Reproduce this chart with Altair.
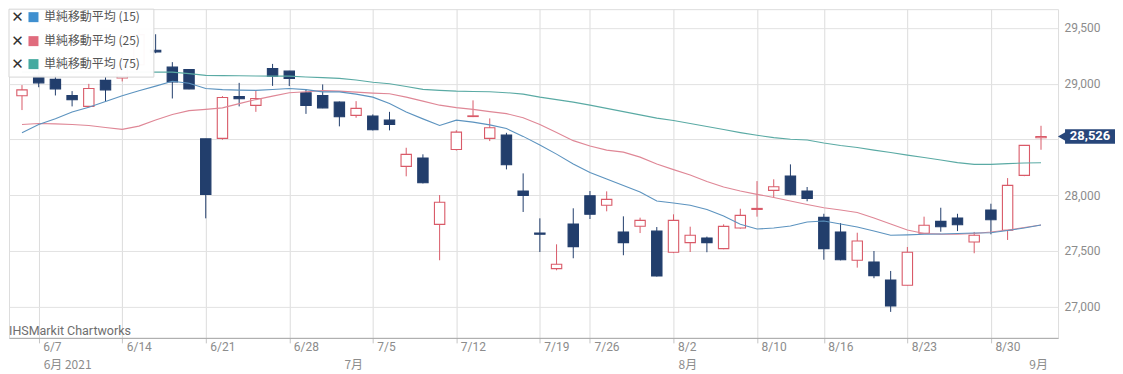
import altair as alt
import pandas as pd
import datetime as dt

# ---------------- data ----------------
dates = [
    "2021-06-04", "2021-06-07", "2021-06-08", "2021-06-09", "2021-06-10", "2021-06-11",
    "2021-06-14", "2021-06-15", "2021-06-16", "2021-06-17", "2021-06-18",
    "2021-06-21", "2021-06-22", "2021-06-23", "2021-06-24", "2021-06-25",
    "2021-06-28", "2021-06-29", "2021-06-30", "2021-07-01", "2021-07-02",
    "2021-07-05", "2021-07-06", "2021-07-07", "2021-07-08", "2021-07-09",
    "2021-07-12", "2021-07-13", "2021-07-14", "2021-07-15", "2021-07-16",
    "2021-07-19", "2021-07-20", "2021-07-21",
    "2021-07-26", "2021-07-27", "2021-07-28", "2021-07-29", "2021-07-30",
    "2021-08-02", "2021-08-03", "2021-08-04", "2021-08-05", "2021-08-06",
    "2021-08-10", "2021-08-11", "2021-08-12", "2021-08-13",
    "2021-08-16", "2021-08-17", "2021-08-18", "2021-08-19", "2021-08-20",
    "2021-08-23", "2021-08-24", "2021-08-25", "2021-08-26", "2021-08-27",
    "2021-08-30", "2021-08-31", "2021-09-01", "2021-09-02",
]
opens = [28891, 29070, 29038, 28894, 28796, 29029, 29050, 29170, 29300, 29148, 29127,
         28505, 28509, 28885, 28805, 29136, 29112, 28918, 28894, 28834, 28715,
         28709, 28673, 28258, 28333, 27738, 28410, 28705, 28509, 28539, 28037,
         27660, 27341, 27741, 27995, 27909, 27670, 27721, 27678,
         27488, 27574, 27616, 27520, 27705, 27872, 28043, 28171, 28037,
         27801, 27670, 27416, 27401, 27239, 27192, 27658, 27765, 27795, 27580,
         27867, 27685, 28177, 28515]
highs = [28987, 29140, 29080, 28933, 28998, 29060, 29180, 29480, 29443, 29193, 29130,
         28505, 28888, 29007, 28939, 29177, 29115, 28948, 28993, 28840, 28843,
         28724, 28747, 28425, 28366, 28001, 28582, 28850, 28688, 28559, 28195,
         27792, 27559, 27882, 28037, 28034, 27810, 27798, 27714,
         27828, 27717, 27628, 27738, 27878, 28126, 28142, 28276, 28073,
         27833, 27750, 27663, 27499, 27320, 27535, 27807, 27887, 27833, 27670,
         27923, 28153, 28450, 28622]
lows = [28763, 28968, 28894, 28796, 28790, 28837, 29020, 29150, 29273, 28867, 28950,
        27792, 28497, 28796, 28747, 28980, 28978, 28729, 28780, 28617, 28694,
        28580, 28581, 28169, 28105, 27416, 28400, 28700, 28485, 28231, 27849,
        27490, 27326, 27434, 27786, 27855, 27461, 27660, 27270,
        27480, 27490, 27488, 27515, 27700, 27807, 27977, 28000, 27945,
        27421, 27415, 27350, 27255, 26953, 27190, 27655, 27672, 27678, 27479,
        27649, 27598, 28170, 28407]
closes = [28944, 29007, 28953, 28855, 28957, 28944, 29160, 29440, 29285, 29016, 28953,
          28007, 28876, 28864, 28867, 29067, 29047, 28805, 28783, 28703, 28778,
          28586, 28634, 28366, 28111, 27936, 28565, 28711, 28604, 28272, 27998,
          27649, 27380, 27538, 27828, 27962, 27574, 27774, 27275,
          27774, 27640, 27574, 27720, 27819, 27881, 28075, 28004, 27971,
          27520, 27421, 27589, 27278, 27006, 27488, 27730, 27717, 27735, 27640,
          27780, 28088, 28446, 28526]

ma15 = [28559, 28634, 28686, 28745, 28789, 28839, 28892, 28937, 28978, 29022, 29004,
        28957, 28946, 28942, 28940, 28948, 28957, 28946, 28926, 28926, 28906,
        28879, 28821, 28745, 28684, 28625, 28673, 28655, 28630, 28597, 28527,
        28449, 28368, 28279, 28203, 28144, 28086, 28028, 27947,
        27929, 27909, 27871, 27813, 27738, 27696, 27705, 27723, 27759,
        27768, 27741, 27714, 27678, 27640, 27644, 27649, 27652, 27656, 27661,
        27663, 27683, 27705, 27732]
ma25 = [28634, 28642, 28639, 28634, 28624, 28606, 28590, 28619, 28673, 28724, 28758,
        28769, 28783, 28821, 28857, 28888, 28918, 28928, 28937, 28933, 28924,
        28915, 28909, 28879, 28843, 28807, 28785, 28769, 28749, 28731, 28695,
        28633, 28561, 28489, 28440, 28404, 28386, 28341, 28279,
        28229, 28180, 28122, 28073, 28037, 28007, 27979, 27947, 27916,
        27887, 27867, 27844, 27795, 27741, 27687, 27656, 27650, 27649, 27656,
        27669, 27687, 27710, 27732]
ma75 = [29103, 29103, 29103, 29103, 29103, 29103, 29103, 29103, 29103, 29103, 29090,
        29074, 29072, 29071, 29069, 29067, 29067, 29060, 29054, 29047, 29033,
        29013, 28999, 28975, 28949, 28940, 28933, 28930, 28927, 28919, 28906,
        28879, 28857, 28834, 28807, 28778, 28749, 28720, 28691,
        28669, 28642, 28615, 28588, 28561, 28537, 28516, 28501, 28494,
        28467, 28445, 28427, 28404, 28382, 28359, 28337, 28315, 28292, 28276,
        28276, 28283, 28288, 28290]

series_names = ["単純移動平均 (15)", "単純移動平均 (25)", "単純移動平均 (75)"]
line_colors = ["#5c93bf", "#df8796", "#5aaaa4"]
legend_colors = ["#3f8fcf", "#e06b7d", "#45aaa0"]

month_labels = ["6月 2021", "7月", "8月", "9月"]
month_idx = [1, 19, 39, 60]

last_price = 28526
last_label = "28,526"

y_ticks = [27000, 27500, 28000, 28500, 29000, 29500]

# ---------------- tables ----------------
d_objs = [dt.date.fromisoformat(s) for s in dates]
day_labels = [f"{d.month}/{d.day}" for d in d_objs]
week_ticks = [i for i in range(1, len(d_objs))
              if d_objs[i].isocalendar()[1] != d_objs[i - 1].isocalendar()[1]]
idx_list = list(range(len(dates)))

candles = pd.DataFrame({
    "idx": idx_list,
    "open": opens, "high": highs, "low": lows, "close": closes,
})
candles["dir"] = ["up" if c >= o else "down" for o, c in zip(opens, closes)]

months_df = pd.DataFrame({"idx": month_idx, "label": month_labels})

# ---------------- styles ----------------
RED = "#d95a68"
NAVY = "#223e6c"
TAG = "#27467a"
W = 1050
H = 329
FONT = "Roboto"

xscale = alt.Scale(domain=[-0.7775, 62.02], nice=False, zero=False)
yscale = alt.Scale(domain=[26720, 29668], nice=False, zero=False)

label_arr = "[" + ",".join(f"'{s}'" for s in day_labels) + "]"
xaxis = alt.Axis(values=week_ticks, labelExpr=f"{label_arr}[datum.value]", grid=True,
                 gridColor="#dcdcdc", tickColor="#c4c4c4", tickSize=5, domainColor="#a8a8a8",
                 labelAlign="left", labelOffset=4, labelColor="#8c8c8c", labelFontSize=12,
                 labelFont=FONT, title=None, labelPadding=-1, labelFlush=False,
                 labelOverlap=False)
yaxis = alt.Axis(orient="right", values=y_ticks,
                 labelExpr="datum.value == 28500 ? '' : format(datum.value, ',')",
                 grid=True, gridColor="#e2e2e2", ticks=False, domain=False,
                 labelColor="#8c8c8c", labelFontSize=12, labelFont=FONT,
                 labelPadding=6, title=None)

def X(field):
    return alt.X(field, scale=xscale, axis=xaxis)

def Y(field):
    return alt.Y(field, scale=yscale, axis=yaxis)

dir_scale_stroke = alt.Scale(domain=["up", "down"], range=[RED, NAVY])
dir_scale_fill = alt.Scale(domain=["up", "down"], range=["#ffffff", NAVY])

base = alt.Chart(candles)

wicks = base.mark_rule(strokeWidth=1).encode(
    x=X("idx:Q"), y=Y("low:Q"), y2="high:Q",
    stroke=alt.Stroke("dir:N", scale=dir_scale_stroke, legend=None),
)
bodies = base.transform_calculate(
    xl="datum.idx - 0.31", xr="datum.idx + 0.31"
).mark_rect(strokeWidth=1.1).encode(
    x=X("xl:Q"), x2="xr:Q", y=Y("open:Q"), y2="close:Q",
    fill=alt.Fill("dir:N", scale=dir_scale_fill, legend=None),
    stroke=alt.Stroke("dir:N", scale=dir_scale_stroke, legend=None),
)

ma_layers = []
for vals, col in zip([ma75, ma25, ma15], [line_colors[2], line_colors[1], line_colors[0]]):
    df = pd.DataFrame({"idx": idx_list, "value": vals})
    ma_layers.append(alt.Chart(df).mark_line(strokeWidth=1.1, color=col).encode(
        x=X("idx:Q"), y=Y("value:Q")))

months = alt.Chart(months_df).mark_text(
    align="left", baseline="middle", dx=5, fontSize=12, font="Noto Sans CJK JP", color="#8c8c8c"
).encode(x=X("idx:Q"), y=alt.value(H + 27), text="label:N")

# legend box (top-left, over the candles)
one = pd.DataFrame({"k": [0]})
legend_box = alt.Chart(one).mark_rect(
    fill="#ffffff", opacity=0.97, stroke="#d6d6d6", strokeWidth=1
).encode(x=alt.value(0), x2=alt.value(145), y=alt.value(0), y2=alt.value(68))

legend_layers = []
rows_y = [8, 32, 55]
for name, col, ry in zip(series_names, legend_colors, rows_y):
    legend_layers.append(alt.Chart(one).mark_text(
        text="✕", font="DejaVu Sans", fontSize=15, fontWeight="bold", color="#333333",
        align="center", baseline="middle"
    ).encode(x=alt.value(8.5), y=alt.value(ry)))
    legend_layers.append(alt.Chart(one).mark_square(
        size=100, filled=True, color=col, opacity=1
    ).encode(x=alt.value(24.5), y=alt.value(ry)))
    legend_layers.append(alt.Chart(one).mark_text(
        text=name, font="Noto Sans CJK JP", fontSize=12, color="#555555",
        align="left", baseline="middle"
    ).encode(x=alt.value(35), y=alt.value(ry)))

watermark = alt.Chart(one).mark_text(
    text="IHSMarkit Chartworks", font=FONT, fontSize=12.5, color="#6e6e6e",
    align="left", baseline="alphabetic"
).encode(x=alt.value(0), y=alt.value(326))

# last price tag on the right
tag_rect = alt.Chart(one).mark_rect(fill=TAG).encode(
    x=alt.value(W + 7), x2=alt.value(W + 57),
    y=alt.YDatum(last_price + 64, scale=yscale, axis=yaxis),
    y2=alt.datum(last_price - 64),
)
tag_tip = alt.Chart(one).mark_point(
    shape="triangle-left", filled=True, color=TAG, size=90, opacity=1
).encode(x=alt.value(W + 4), y=alt.YDatum(last_price, scale=yscale, axis=yaxis))
tag_text = alt.Chart(one).mark_text(
    text=last_label, font=FONT, fontSize=13, fontWeight="bold", color="#ffffff",
    align="center", baseline="middle"
).encode(x=alt.value(W + 32), y=alt.YDatum(last_price, scale=yscale, axis=yaxis))

chart = alt.layer(
    wicks, bodies, *ma_layers, months, legend_box, *legend_layers, watermark,
    tag_rect, tag_tip, tag_text
).properties(
    width=W, height=H, padding={"left": 0, "top": 0, "right": 0, "bottom": 0}
).configure_view(
    stroke="#d3d3d3", strokeWidth=1
).configure(background="#ffffff")

chart.save("out.html", embed_options={"renderer": "svg", "actions": False})
